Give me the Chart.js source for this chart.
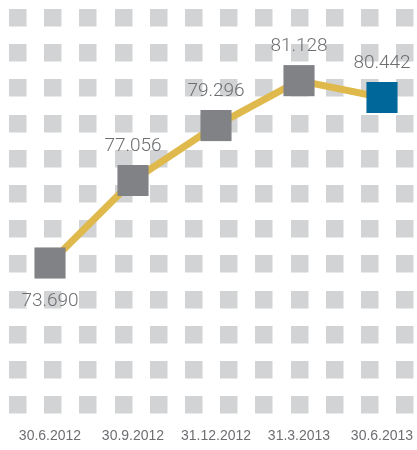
<!DOCTYPE html>
<html>
<head>
<meta charset="utf-8">
<script src="https://cdn.jsdelivr.net/npm/chart.js@4/dist/chart.umd.min.js"></script>
<style>
  html, body { margin: 0; padding: 0; background: #fff; }
  #myChart { display: block; }
</style>
</head>
<body>
<canvas id="myChart" width="417" height="450"></canvas>
<script>
// quarter-end dates and values
const dates = ['30.6.2012', '30.9.2012', '31.12.2012', '31.3.2013', '30.6.2013'];
const values = [73.690, 77.056, 79.296, 81.128, 80.442];
const pointColors = ['#808285', '#808285', '#808285', '#808285', '#00679a'];

// background of light grey tiles
const tilesPlugin = {
  id: 'tiles',
  beforeDraw(chart) {
    const ctx = chart.ctx;
    ctx.save();
    ctx.fillStyle = '#fff';
    ctx.fillRect(0, 0, chart.width, chart.height);
    ctx.fillStyle = '#d1d3d4';
    const step = 35.2, size = 17.5;
    for (let r = 0; r < 12; r++) {
      for (let c = 0; c < 12; c++) {
        ctx.fillRect(Math.round(9 + c * step), Math.round(9 + r * step), size, size);
      }
    }
    ctx.restore();
  }
};

// value label next to each square
const valueLabels = {
  id: 'valueLabels',
  afterDatasetsDraw(chart) {
    const ctx = chart.ctx;
    const meta = chart.getDatasetMeta(0);
    ctx.save();
    ctx.font = '300 19px Roboto';
    ctx.fillStyle = '#6d6e71';
    ctx.textAlign = 'center';
    ctx.textBaseline = 'middle';
    meta.data.forEach((pt, i) => {
      const txt = values[i].toFixed(3);
      const dy = i === 0 ? 38 : -34;
      ctx.fillText(txt, pt.x, pt.y + dy);
    });
    ctx.restore();
  }
};

var ctx = document.getElementById('myChart').getContext('2d');
var myChart = new Chart(ctx, {
  type: 'line',
  data: {
    labels: dates,
    datasets: [{
      data: values,
      borderColor: '#dfb94b',
      borderWidth: 7,
      tension: 0,
      pointStyle: 'rect',
      pointRadius: 22,
      pointHoverRadius: 22,
      pointBorderWidth: 0,
      pointBackgroundColor: pointColors,
      pointBorderColor: pointColors
    }]
  },
  options: {
    responsive: false,
    animation: false,
    events: [],
    layout: { padding: { left: 50, right: 35, top: 10, bottom: 5 } },
    plugins: { legend: { display: false }, tooltip: { enabled: false } },
    scales: {
      x: {
        offset: false,
        grid: { display: false, drawTicks: false },
        border: { display: false },
        ticks: {
          padding: 0,
          color: '#6d6e71',
          font: { family: 'Liberation Sans', size: 14 },
          maxRotation: 0,
          autoSkip: false
        }
      },
      y: {
        display: false,
        min: 66.96,
        max: 83.52
      }
    }
  },
  plugins: [tilesPlugin, valueLabels]
});
</script>
</body>
</html>
